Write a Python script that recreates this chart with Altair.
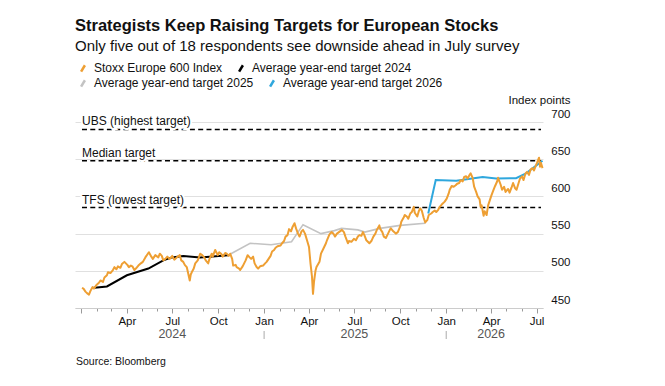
import altair as alt
import pandas as pd

# ---- data -----------------------------------------------------------------
S_IDX = "Stoxx Europe 600 Index"
S_24 = "Average year-end target 2024"
S_25 = "Average year-end target 2025"
S_26 = "Average year-end target 2026"

STOXX_DATES = [
    "2024-01-02", "2024-01-05", "2024-01-09", "2024-01-12", "2024-01-16", "2024-01-19",
    "2024-01-23", "2024-01-26", "2024-01-31", "2024-02-05", "2024-02-08", "2024-02-13",
    "2024-02-16", "2024-02-21", "2024-02-23", "2024-02-28", "2024-03-04", "2024-03-07",
    "2024-03-11", "2024-03-14", "2024-03-19", "2024-03-22", "2024-03-27", "2024-04-02",
    "2024-04-05", "2024-04-09", "2024-04-12", "2024-04-16", "2024-04-19", "2024-04-24",
    "2024-04-29", "2024-05-03", "2024-05-08", "2024-05-13", "2024-05-15", "2024-05-20",
    "2024-05-23", "2024-05-28", "2024-06-03", "2024-06-06", "2024-06-10", "2024-06-13",
    "2024-06-17", "2024-06-21", "2024-06-26", "2024-07-01", "2024-07-05", "2024-07-10",
    "2024-07-16", "2024-07-19", "2024-07-23", "2024-07-26", "2024-07-30", "2024-08-02",
    "2024-08-05", "2024-08-07", "2024-08-09", "2024-08-13", "2024-08-16", "2024-08-21",
    "2024-08-26", "2024-08-30", "2024-09-03", "2024-09-06", "2024-09-11", "2024-09-13",
    "2024-09-18", "2024-09-20", "2024-09-25", "2024-09-30", "2024-10-03", "2024-10-07",
    "2024-10-10", "2024-10-15", "2024-10-18", "2024-10-22", "2024-10-25", "2024-10-29",
    "2024-10-31", "2024-11-05", "2024-11-07", "2024-11-12", "2024-11-14", "2024-11-19",
    "2024-11-22", "2024-11-25", "2024-11-29", "2024-12-03", "2024-12-06", "2024-12-10",
    "2024-12-13", "2024-12-17", "2024-12-20", "2024-12-24", "2024-12-30",
    "2025-01-03", "2025-01-06", "2025-01-10", "2025-01-14", "2025-01-17", "2025-01-21",
    "2025-01-24", "2025-01-28", "2025-02-03", "2025-02-06", "2025-02-10", "2025-02-13",
    "2025-02-17", "2025-02-20", "2025-02-24", "2025-02-27", "2025-03-03", "2025-03-06",
    "2025-03-10", "2025-03-13", "2025-03-17", "2025-03-20", "2025-03-24", "2025-03-28",
    "2025-04-01", "2025-04-04", "2025-04-07", "2025-04-09", "2025-04-11", "2025-04-14",
    "2025-04-16", "2025-04-22", "2025-04-25", "2025-04-30", "2025-05-05", "2025-05-07",
    "2025-05-12", "2025-05-16", "2025-05-20", "2025-05-23", "2025-05-27", "2025-06-02",
    "2025-06-06", "2025-06-10", "2025-06-13", "2025-06-18", "2025-06-20", "2025-06-25",
    "2025-06-30", "2025-07-04", "2025-07-08", "2025-07-11", "2025-07-15", "2025-07-18",
    "2025-07-21", "2025-07-25", "2025-07-31", "2025-08-04", "2025-08-08", "2025-08-12",
    "2025-08-15", "2025-08-20", "2025-08-22", "2025-08-26", "2025-08-29", "2025-09-02",
    "2025-09-05", "2025-09-10", "2025-09-12", "2025-09-17", "2025-09-22", "2025-09-26",
    "2025-10-01", "2025-10-03", "2025-10-08", "2025-10-10", "2025-10-14", "2025-10-17",
    "2025-10-21", "2025-10-24", "2025-10-28", "2025-10-30", "2025-11-04", "2025-11-07",
    "2025-11-10", "2025-11-13", "2025-11-17", "2025-11-20", "2025-11-24", "2025-11-27",
    "2025-12-02", "2025-12-05", "2025-12-09", "2025-12-12", "2025-12-16", "2025-12-19",
    "2025-12-23", "2025-12-29",
    "2026-01-02", "2026-01-06", "2026-01-08", "2026-01-12", "2026-01-16", "2026-01-20",
    "2026-01-23", "2026-01-27", "2026-01-30", "2026-02-03", "2026-02-06", "2026-02-10",
    "2026-02-13", "2026-02-17", "2026-02-19", "2026-02-23", "2026-02-26", "2026-03-02",
    "2026-03-05", "2026-03-09", "2026-03-11", "2026-03-13", "2026-03-17", "2026-03-19",
    "2026-03-23", "2026-03-26", "2026-03-30", "2026-04-02", "2026-04-06", "2026-04-09",
    "2026-04-13", "2026-04-15", "2026-04-20", "2026-04-23", "2026-04-27", "2026-04-30",
    "2026-05-05", "2026-05-08", "2026-05-12", "2026-05-15", "2026-05-19", "2026-05-22",
    "2026-05-27", "2026-05-29", "2026-06-02", "2026-06-05", "2026-06-09", "2026-06-12",
    "2026-06-16", "2026-06-19", "2026-06-23", "2026-06-26", "2026-06-30", "2026-07-02",
    "2026-07-06", "2026-07-07", "2026-07-08", "2026-07-10", "2026-07-13",
]
STOXX_VALUES = [
    477, 476, 472, 470, 468, 473,
    478, 476, 481, 484, 487, 485,
    491, 494, 498, 497, 501, 505,
    502, 506, 504, 509, 512, 508,
    505, 507, 506, 501, 503, 507,
    510, 512, 518, 523, 525, 519,
    516, 521, 518, 523, 520, 514,
    516, 519, 516, 520, 515, 518,
    521, 514, 512, 508, 505, 496,
    487, 495, 498, 503, 510, 514,
    523, 521, 518, 514, 510, 515,
    523, 519, 528, 521, 525, 523,
    519, 524, 523, 520, 523, 516,
    507, 508, 505, 503, 501, 506,
    510, 514, 521, 518, 516, 519,
    510, 505, 503, 506, 507,
    510, 512, 516, 520, 526, 528,
    531, 533, 534, 537, 540, 546,
    548, 556, 553, 559, 564, 557,
    550, 546, 553, 555, 550, 541,
    532, 510, 492, 469, 485, 500,
    505, 512, 523, 530, 537, 541,
    549, 552, 550, 546, 550, 553,
    555, 552, 546, 537, 540, 539,
    543, 541, 546, 548, 547, 552,
    548, 541, 537, 540, 546, 550,
    555, 561, 556, 552, 546, 544,
    548, 555, 557, 553, 550, 552,
    560, 566, 572, 575, 573, 570,
    577, 579, 586, 578, 573, 580,
    584, 581, 571, 565, 568, 575,
    577, 579, 581, 579, 582, 586,
    589, 593,
    597, 604, 609, 614, 613, 615,
    617, 618, 622, 620, 626, 627,
    624, 629, 631, 625, 613, 606,
    600, 596, 586, 588, 574, 580,
    575, 588, 596, 602, 609, 614,
    620, 625, 616, 609, 613, 606,
    610, 605, 612, 618, 611, 609,
    620, 624, 627, 622, 631, 633,
    629, 636, 638, 635, 642, 645,
    652, 648, 640, 645, 638,
]

T24_DATES = ["2024-01-22", "2024-02-21", "2024-04-01", "2024-05-14", "2024-06-13",
             "2024-06-30", "2024-07-23", "2024-08-26", "2024-10-21"]
T24_VALUES = [477, 479, 494, 503, 514, 518, 520, 518, 521]

T25_DATES = ["2024-10-21", "2024-12-04", "2025-01-15", "2025-02-25", "2025-03-20",
             "2025-04-25", "2025-05-22", "2025-06-05", "2025-07-08", "2025-07-22",
             "2025-08-21", "2025-10-01", "2025-11-20"]
T25_VALUES = [521, 537, 535, 539, 562, 550, 554, 557, 555, 552, 557, 561, 564]

T26_DATES = ["2025-11-26", "2025-12-11", "2026-01-21", "2026-03-15", "2026-04-11",
             "2026-05-21", "2026-06-10", "2026-07-13"]
T26_VALUES = [577, 622, 621, 626, 624, 624.5, 631, 648]

TARGET_LABELS = ["UBS (highest target)", "Median target", "TFS (lowest target)"]
TARGET_VALUES = [690, 648, 585]
TARGET_START = "2024-01-02"
TARGET_END = "2026-07-10"

YEAR_LABELS = ["2024", "2025", "2026"]
YEAR_ANCHORS = ["2024-07-01", "2025-07-01", "2026-04-01"]
YEAR_BREAKS = ["2025-01-01", "2026-01-01"]

Y_TICKS = [450, 500, 550, 600, 650, 700]

# ---- styling ----------------------------------------------------------------
FONT = "Liberation Sans"
ORANGE = "#ee9f33"
BLACK = "#000000"
GRAY = "#c3c3c3"
BLUE = "#2fa7dd"
W, H = 468, 186


def frame(dates, values, name):
    return pd.DataFrame({"date": dates, "value": values, "series": name})


idx_df = frame(STOXX_DATES, STOXX_VALUES, S_IDX)
t24_df = frame(T24_DATES, T24_VALUES, S_24)
t25_df = frame(T25_DATES, T25_VALUES, S_25)
t26_df = frame(T26_DATES, T26_VALUES, S_26)

month_ticks = [alt.DateTime(year=y, month=m, date=1, utc=True)
               for y in (2024, 2025, 2026) for m in range(1, 13)
               if (y, m) <= (2026, 7)]

x_scale = alt.Scale(domain=[alt.DateTime(year=2023, month=12, date=19, utc=True),
                            alt.DateTime(year=2026, month=7, date=14, utc=True)])
x_axis = alt.Axis(
    values=month_ticks,
    title=None,
    grid=False,
    domainColor="#cccccc",
    tickColor="#9a9a9a",
    tickSize={"condition": {"test": "utcmonth(datum.value) % 3 === 0", "value": 5}, "value": 3},
    labelExpr=("utcmonth(datum.value) % 3 === 0 && utcyear(datum.value) * 12 + utcmonth(datum.value) > 2024 * 12"
               " ? utcFormat(datum.value, '%b') : ''"),
    labelFont=FONT,
    labelFontSize=11.5,
    labelColor="#111111",
    labelPadding=2,
)
y_scale = alt.Scale(domain=[450, 700], nice=False, zero=False)
y_axis = alt.Axis(
    orient="right",
    values=Y_TICKS,
    grid=True,
    gridColor="#e0e0e0",
    domain=False,
    ticks=False,
    labelAlign="right",
    labelBaseline="alphabetic",
    labelPadding=27,
    labelOffset=-5,
    labelFont=FONT,
    labelFontSize=11.5,
    labelColor="#111111",
    title="Index points",
    titleAngle=0,
    titleAlign="right",
    titleBaseline="alphabetic",
    titleX=27,
    titleY=-19,
    titleFont=FONT,
    titleFontSize=11.5,
    titleFontWeight="normal",
    titleColor="#111111",
)

X = alt.X("date:T", scale=x_scale, axis=x_axis)
Y = alt.Y("value:Q", scale=y_scale, axis=y_axis)


def legend(x, y):
    return alt.Legend(
        title=None,
        orient="none",
        legendX=x,
        legendY=y,
        direction="horizontal",
        symbolType="M-0.3,0.5L0.3,-0.5",
        symbolSize=160,
        symbolStrokeWidth=2.5,
        symbolFillColor="transparent",
        labelFont=FONT,
        labelFontSize=12,
        labelColor="#111111",
        labelOffset=3,
        columnPadding=10,
    )


# dashed target levels with labels
targets = pd.DataFrame({"label": TARGET_LABELS, "value": TARGET_VALUES,
                        "date": TARGET_START, "end": TARGET_END})
dashes = alt.Chart(targets).mark_rule(color=BLACK, strokeWidth=1.6, strokeDash=[5, 3.3]).encode(
    x=X, x2="end:T", y=Y
)
label_halo = alt.Chart(targets).mark_text(
    align="left", baseline="alphabetic", dy=-4, font=FONT, fontSize=12,
    fill="white", stroke="white", strokeWidth=4
).encode(x=X, y=Y, text="label:N")
labels = alt.Chart(targets).mark_text(
    align="left", baseline="alphabetic", dy=-4, font=FONT, fontSize=12, color="#111111"
).encode(x=X, y=Y, text="label:N")

# target lines for 2025 / 2026
later = alt.layer(
    alt.Chart(t25_df).mark_line(strokeWidth=1.6),
    alt.Chart(t26_df).mark_line(strokeWidth=2),
).encode(
    x=X, y=Y,
    color=alt.Color("series:N", scale=alt.Scale(domain=[S_25, S_26], range=[GRAY, BLUE]),
                    legend=legend(0, -47)),
)

# 2024 target and the index itself
earlier = alt.layer(
    alt.Chart(t24_df).mark_line(strokeWidth=2),
    alt.Chart(idx_df).mark_line(strokeWidth=2, strokeJoin="round"),
).encode(
    x=X, y=Y,
    color=alt.Color("series:N", scale=alt.Scale(domain=[S_IDX, S_24], range=[ORANGE, BLACK]),
                    legend=legend(0, -62)),
)

# year captions under the month labels, with separators at year starts
years = alt.Chart(pd.DataFrame({"date": YEAR_ANCHORS, "label": YEAR_LABELS})).mark_text(
    baseline="middle", font=FONT, fontSize=12.5, color="#555555"
).encode(x=X, y=alt.value(H + 26), text="label:N")
breaks = alt.Chart(pd.DataFrame({"date": YEAR_BREAKS})).mark_rule(color="#aaaaaa").encode(
    x=X, y=alt.value(H + 23), y2=alt.value(H + 31)
)

source = alt.Chart(pd.DataFrame({"t": ["Source: Bloomberg"]})).mark_text(
    align="left", baseline="middle", font=FONT, fontSize=10.5, color="#111111"
).encode(x=alt.value(1), y=alt.value(H + 54), text="t:N")

chart = alt.layer(
    dashes, label_halo, labels, later, earlier, years, breaks, source
).resolve_scale(color="independent").properties(
    width=W,
    height=H,
    autosize=alt.AutoSizeParams(type="none"),
    padding={"left": 75, "top": 122, "right": 122, "bottom": 78},
    title=alt.TitleParams(
        text="Strategists Keep Raising Targets for European Stocks",
        subtitle="Only five out of 18 respondents see downside ahead in July survey",
        anchor="start",
        frame="group",
        font=FONT,
        fontSize=16.5,
        fontWeight="bold",
        color="#111111",
        subtitleFont=FONT,
        subtitleFontSize=15,
        subtitleColor="#111111",
        subtitlePadding=5,
        offset=6,
    ),
).configure_view(stroke=None)

chart.save("out.html", embed_options={"renderer": "svg", "actions": False})
